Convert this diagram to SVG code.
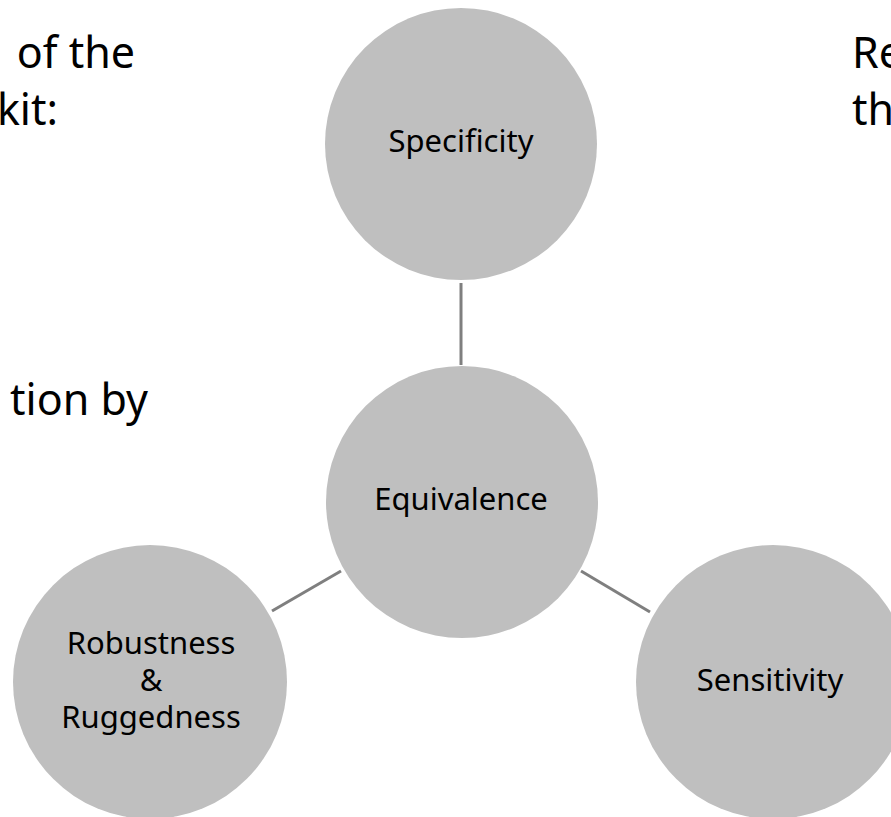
<svg xmlns="http://www.w3.org/2000/svg" width="891" height="817" viewBox="0 0 891 817">
<style>
.node{fill:#BFBFBF}
.lbl{font-family:"Noto Sans","Liberation Sans",sans-serif;font-size:31px;fill:#000;text-anchor:middle}
.bg{font-family:"Noto Sans","Liberation Sans",sans-serif;font-size:43px;fill:#000}
.conn{stroke:#7F7F7F;stroke-width:3;fill:none}
</style>
<rect width="891" height="817" fill="#fff"/>
<g id="background-text">
<text class="bg" x="135" y="68" text-anchor="end">of the</text>
<text class="bg" x="58" y="125" text-anchor="end">kit:</text>
<text class="bg" x="148" y="415" text-anchor="end">tion by</text>
<text class="bg" x="852" y="68">Re</text>
<text class="bg" x="852" y="125">th</text>
</g>
<g id="connectors">
<line class="conn" x1="461" y1="283" x2="461" y2="365"/>
<line class="conn" x1="272" y1="611" x2="341" y2="571"/>
<line class="conn" x1="581" y1="571" x2="650" y2="612"/>
</g>
<g id="specificity">
<circle class="node" cx="461" cy="144" r="136"/>
<text class="lbl" x="461" y="152">Specificity</text>
</g>
<g id="equivalence">
<circle class="node" cx="462" cy="502" r="136"/>
<text class="lbl" x="461" y="510">Equivalence</text>
</g>
<g id="robustness">
<circle class="node" cx="150" cy="682" r="137"/>
<text class="lbl" x="151" y="654">Robustness</text>
<text class="lbl" x="151" y="691">&amp;</text>
<text class="lbl" x="151" y="728">Ruggedness</text>
</g>
<g id="sensitivity">
<circle class="node" cx="773" cy="682" r="137"/>
<text class="lbl" x="770" y="691">Sensitivity</text>
</g>
</svg>
